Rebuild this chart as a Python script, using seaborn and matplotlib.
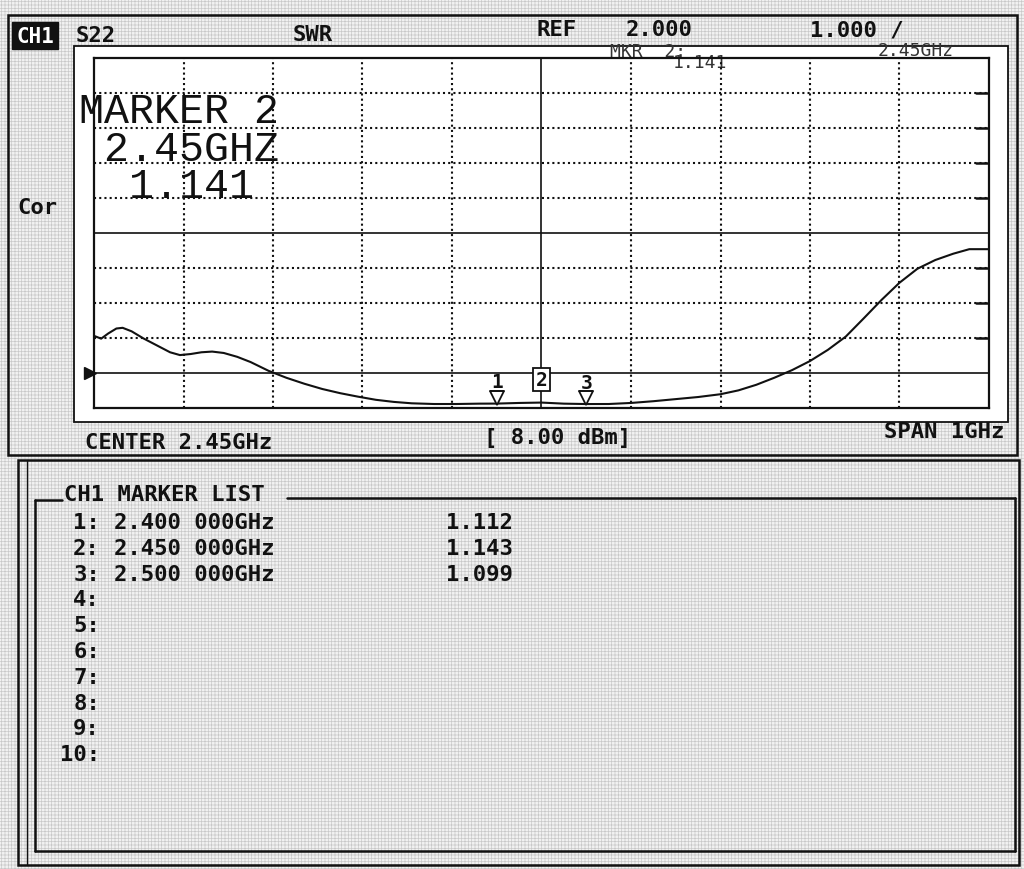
import numpy as np
import pandas as pd
import seaborn as sns
import matplotlib
matplotlib.use("Agg")
import matplotlib.pyplot as plt
from matplotlib.patches import Rectangle
from matplotlib.transforms import offset_copy

# ---------------- data ----------------
freq_ghz = [1.950, 1.958, 1.966, 1.975, 1.982, 1.992, 2.005, 2.020, 2.035, 2.046,
            2.058, 2.070, 2.082, 2.095, 2.110, 2.125, 2.145, 2.165, 2.185, 2.205,
            2.225, 2.245, 2.265, 2.285, 2.305, 2.330, 2.355, 2.380, 2.400, 2.425,
            2.450, 2.475, 2.500, 2.525, 2.550, 2.575, 2.600, 2.625, 2.650, 2.670,
            2.690, 2.710, 2.730, 2.750, 2.770, 2.790, 2.810, 2.830, 2.850, 2.870,
            2.890, 2.910, 2.928, 2.950]
swr = [3.05, 2.97, 3.12, 3.26, 3.28, 3.18, 2.98, 2.78, 2.58, 2.50,
       2.53, 2.58, 2.60, 2.56, 2.45, 2.30, 2.05, 1.85, 1.68, 1.53,
       1.41, 1.31, 1.22, 1.16, 1.12, 1.10, 1.10, 1.11, 1.112, 1.13,
       1.141, 1.11, 1.099, 1.10, 1.13, 1.18, 1.24, 1.30, 1.38, 1.49,
       1.65, 1.85, 2.07, 2.33, 2.65, 3.03, 3.55, 4.08, 4.57, 4.97,
       5.22, 5.40, 5.53, 5.53]

marker_ids = ["1", "2", "3"]
marker_freq = [2.400, 2.450, 2.500]
marker_swr = [1.112, 1.143, 1.099]
active_marker = "2"
active_readout = "1.141"

list_rows = ["1:", "2:", "3:", "4:", "5:", "6:", "7:", "8:", "9:", "10:"]
list_freqs = ["2.400 000GHz", "2.450 000GHz", "2.500 000GHz"]
list_values = ["1.112", "1.143", "1.099"]

center_ghz = 2.45
span_ghz = 1.0
ref_value = 2.0
per_div = 1.0
n_div = 10

# ---------------- style ----------------
sns.set_style("white")
plt.rcParams["font.family"] = ["DejaVu Sans Mono", "DejaVu Sans"]
plt.rcParams["hatch.linewidth"] = 0.5

W, H = 1024, 870
fig = plt.figure(figsize=(W / 100, H / 100), dpi=100)
fig.patch.set_facecolor("#ededed")

bg = fig.add_axes([0, 0, 1, 1], zorder=0)
bg.set_xlim(0, W)
bg.set_ylim(H, 0)
bg.axis("off")

# halftone-like background
bg.add_patch(Rectangle((0, 0), W, H, facecolor="#f1f1f1", edgecolor="#c8c8c8",
                       hatch="+++++", linewidth=0, zorder=0))

ink = "#111111"

# top panel frame
bg.add_patch(Rectangle((8, 16), 1009, 440, fill=False, edgecolor=ink, lw=1.8, zorder=2))
# white screen area
bg.add_patch(Rectangle((74, 47), 934, 376, facecolor="white", edgecolor=ink, lw=1.3, zorder=2))

# header
bg.add_patch(Rectangle((12, 23), 46, 27, facecolor=ink, edgecolor=ink, zorder=3))
bg.text(35, 37, "CH1", color="white", fontsize=15, fontweight="bold", ha="center", va="center", zorder=4)
hdr = dict(fontsize=16, fontweight="bold", color=ink, va="center", ha="left", zorder=4)
bg.text(76, 36, "S22", **hdr)
bg.text(293, 35, "SWR", **hdr)
bg.text(537, 30, "REF", **hdr)
bg.text(626, 30, f"{ref_value:.3f}", **hdr)
bg.text(810, 30, f"{per_div:.3f} /", **hdr)
bg.text(17, 208, "Cor", **hdr)

# bottom annotation row
bg.text(85, 443, f"CENTER {center_ghz:.2f}GHz", **hdr)
bg.text(484, 438, "[ 8.00 dBm]", **hdr)
bg.text(1004, 432, f"SPAN {span_ghz:.0f}GHz", fontsize=16, fontweight="bold", color=ink,
        va="center", ha="right", zorder=4)

# ---------------- plot area ----------------
gx0, gx1, gy0, gy1 = 94, 989, 59, 408.5
ax = fig.add_axes([gx0 / W, 1 - gy1 / H, (gx1 - gx0) / W, (gy1 - gy0) / H], zorder=5)
ax.set_facecolor("none")
fmin, fmax = center_ghz - span_ghz / 2, center_ghz + span_ghz / 2
ymin = ref_value - per_div
ymax = ymin + n_div * per_div
ax.set_xlim(fmin, fmax)
ax.set_ylim(ymin, ymax)
ax.set_xticks([])
ax.set_yticks([])
for s in ax.spines.values():
    s.set_color(ink)
    s.set_linewidth(1.6)

dot = (0, (1.0, 1.5))
xdiv = np.linspace(fmin, fmax, n_div + 1)[1:-1]
ydiv = np.linspace(ymin, ymax, n_div + 1)[1:-1]
for xv in xdiv:
    if abs(xv - center_ghz) < 1e-9:
        ax.axvline(xv, color=ink, lw=1.2, zorder=1)
    else:
        ax.axvline(xv, color=ink, lw=1.5, linestyle=dot, zorder=1)
for yv in ydiv:
    if abs(yv - ref_value) < 1e-9 or abs(yv - (ymin + ymax) / 2) < 1e-9:
        ax.axhline(yv, color=ink, lw=1.2, zorder=1)
    else:
        ax.axhline(yv, color=ink, lw=1.5, linestyle=dot, zorder=1)
        ax.plot([fmax - 0.014, fmax], [yv, yv], color=ink, lw=1.8, zorder=1)

# trace
df = pd.DataFrame({"freq": freq_ghz, "swr": swr})
sns.lineplot(data=df, x="freq", y="swr", color=ink, lw=1.5, ax=ax, sort=False,
             estimator=None, zorder=3)
ax.set_xlabel("")
ax.set_ylabel("")

# reference position triangle
ax.plot([fmin], [ref_value], marker=">", color=ink, markersize=8, clip_on=False,
        transform=offset_copy(ax.transData, fig, x=-4, y=0, units="dots"), zorder=4)

# markers
tri_tr = offset_copy(ax.transData, fig, x=0, y=6, units="dots")
num_tr = offset_copy(ax.transData, fig, x=0, y=22, units="dots")
for mid, mf, mv in zip(marker_ids, marker_freq, marker_swr):
    if mid == active_marker:
        ax.text(mf, mv, mid, transform=offset_copy(ax.transData, fig, x=0, y=23, units="dots"),
                fontsize=14, fontweight="bold", ha="center", va="center", color=ink, zorder=6,
                bbox=dict(boxstyle="square,pad=0.12", facecolor="white", edgecolor=ink, lw=1.3))
    else:
        ax.plot([mf], [mv], marker="v", markersize=10, markerfacecolor="white",
                markeredgecolor=ink, markeredgewidth=1.3, transform=tri_tr, zorder=6)
        ax.text(mf, mv, mid, transform=num_tr, fontsize=14, fontweight="bold",
                ha="center", va="center", color=ink, zorder=6)
        ax.plot([mf - 0.008, mf + 0.008], [mv, mv], color=ink, lw=1.3,
                transform=offset_copy(ax.transData, fig, x=0, y=13, units="dots"), zorder=6)

# active marker readout (one multi-line block)
bg.text(79, 92, f"MARKER {active_marker}\n {marker_freq[1]:.2f}GHZ\n  {active_readout}",
        family=["Liberation Mono", "DejaVu Sans Mono"], fontsize=30, color=ink,
        ha="left", va="top", multialignment="left", linespacing=0.92, zorder=6)
small = dict(fontsize=13, color="#333333", ha="left", va="center", zorder=6)
bg.text(610, 52, f"MKR  {active_marker}:", **small)
bg.text(673, 63, active_readout, **small)
bg.text(878, 51, f"{marker_freq[1]:.2f}GHz", **small)

# ---------------- marker list panel ----------------
bg.add_patch(Rectangle((18, 461), 1001, 405, fill=False, edgecolor=ink, lw=1.8, zorder=2))
bg.plot([27, 27], [461, 866], color=ink, lw=1.0, zorder=2)
bg.plot([35, 35], [501, 852], color=ink, lw=1.8, zorder=2)
bg.plot([35, 1015], [852, 852], color=ink, lw=1.8, zorder=2)
bg.plot([1015, 1015], [499, 852], color=ink, lw=1.8, zorder=2)
bg.plot([35, 62], [501, 501], color=ink, lw=1.8, zorder=2)
bg.plot([287, 1015], [499, 499], color=ink, lw=1.8, zorder=2)
bg.text(64, 495, "CH1 MARKER LIST", **hdr)

row_y0, row_dy = 523, 25.8
for i, lab in enumerate(list_rows):
    y = row_y0 + i * row_dy
    bg.text(100, y, lab, fontsize=16, fontweight="bold", color=ink, ha="right", va="center", zorder=4)
    if i < len(list_freqs):
        bg.text(114, y, list_freqs[i], **hdr)
        bg.text(446, y, list_values[i], **hdr)

fig.savefig("out.png", dpi=100, facecolor=fig.get_facecolor())
